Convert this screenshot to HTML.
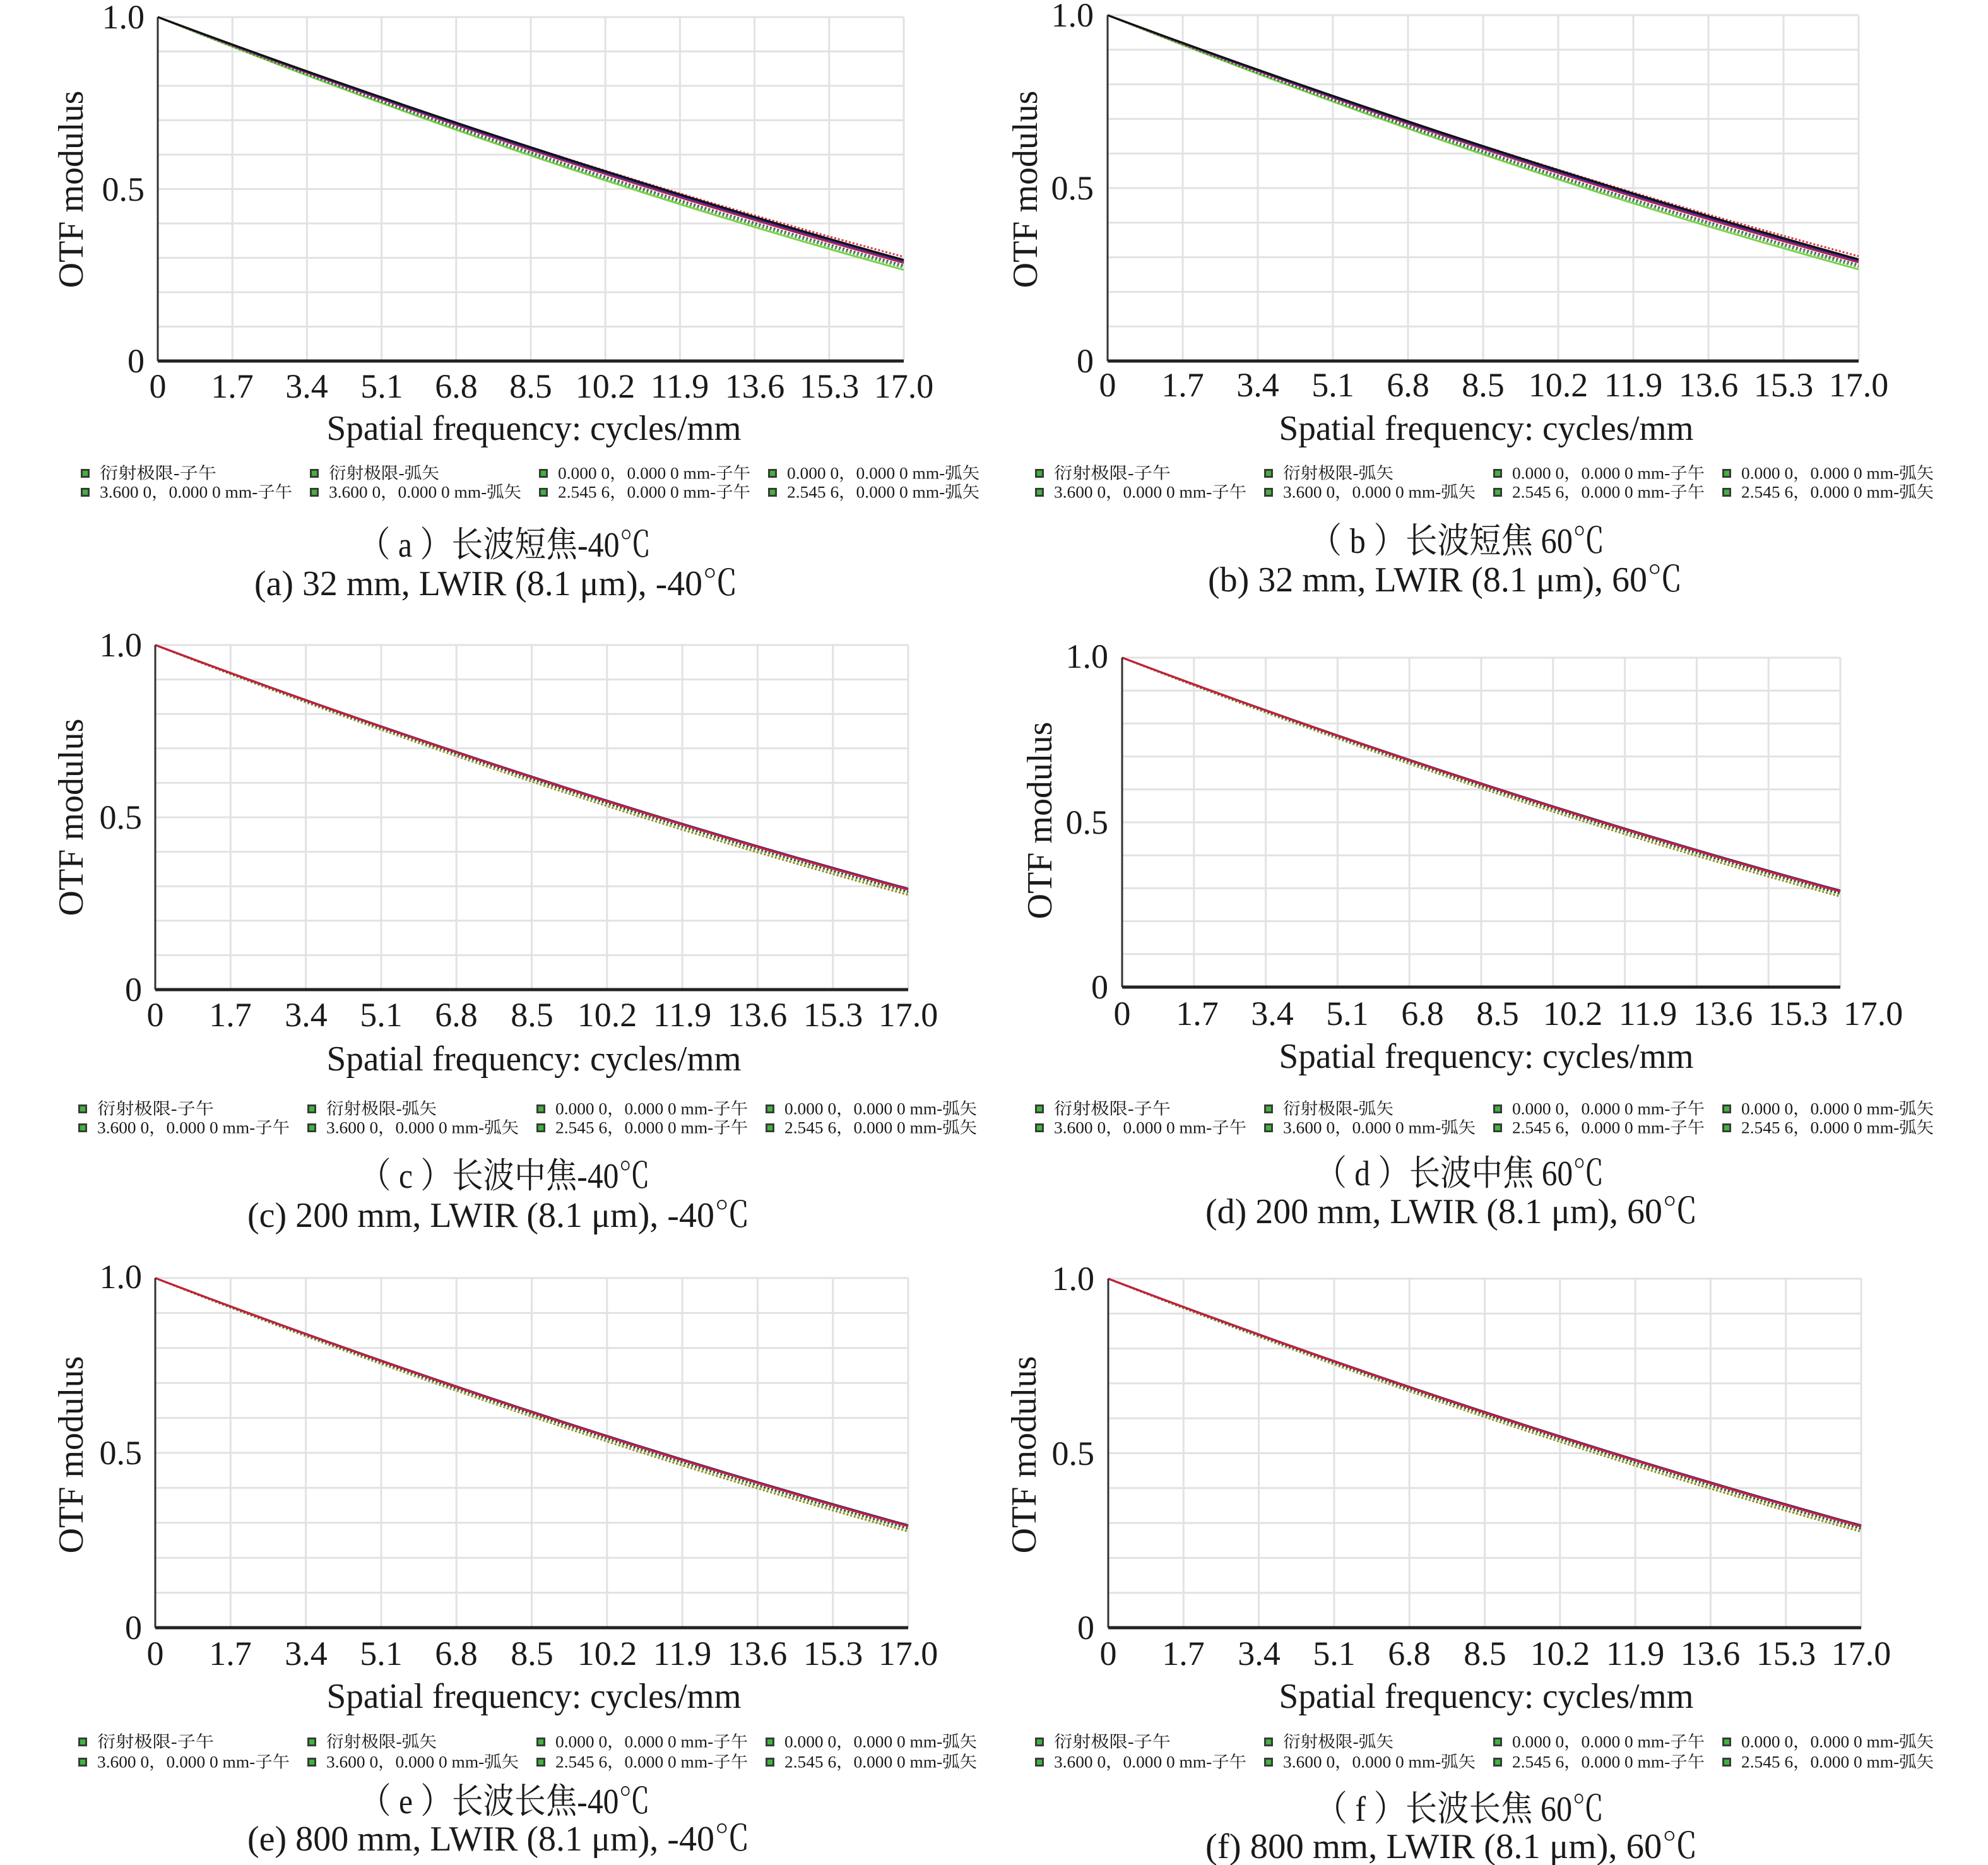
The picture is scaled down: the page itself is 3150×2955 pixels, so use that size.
<!DOCTYPE html>
<html><head><meta charset="utf-8"><style>
html,body{margin:0;padding:0;background:#fff;}
svg{display:block;}
text{font-family:"Liberation Serif","Noto Serif CJK SC","Noto Sans CJK SC",serif;fill:#1a1a1a;}
.tk{font-size:54px;text-anchor:middle;dominant-baseline:central;}
.yl{font-size:54px;text-anchor:end;dominant-baseline:central;}
.at{font-size:56px;text-anchor:middle;dominant-baseline:central;}
.lg{font-size:26px;dominant-baseline:central;}
.cp{font-size:56px;text-anchor:middle;dominant-baseline:central;}
</style></head><body>
<svg width="3150" height="2955" viewBox="0 0 3150 2955" xmlns="http://www.w3.org/2000/svg">
<defs>
<g id="gr" fill="none" stroke="#e2e2e2" stroke-width="3">
<path vector-effect="non-scaling-stroke" d="M0.1,0V1M0.2,0V1M0.3,0V1M0.4,0V1M0.5,0V1M0.6,0V1M0.7,0V1M0.8,0V1M0.9,0V1M1,0V1M0,0H1M0,0.1H1M0,0.2H1M0,0.3H1M0,0.4H1M0,0.5H1M0,0.6H1M0,0.7H1M0,0.8H1M0,0.9H1"/>
</g>
<g id="cvA" fill="none" stroke-width="3">
<path vector-effect="non-scaling-stroke" stroke="#7cd04a" d="M0,0Q0.5,0.438 1,0.735"/>
<path vector-effect="non-scaling-stroke" stroke="#3aa03a" stroke-dasharray="3 3" d="M0,0Q0.5,0.432 1,0.728"/>
<path vector-effect="non-scaling-stroke" stroke="#556" stroke-dasharray="3 3" d="M0,0Q0.5,0.425 1,0.722"/>
<path vector-effect="non-scaling-stroke" stroke="#cc2030" d="M0,0Q0.5,0.415 1,0.715"/>
<path vector-effect="non-scaling-stroke" stroke="#e03040" stroke-dasharray="3 3" d="M0,0Q0.5,0.408 1,0.697"/>
<path vector-effect="non-scaling-stroke" stroke="#7a2a8a" d="M0,0Q0.5,0.412 1,0.712"/>
<path vector-effect="non-scaling-stroke" stroke="#22227a" d="M0,0Q0.5,0.408 1,0.708"/>
<path vector-effect="non-scaling-stroke" stroke="#111" d="M0,0Q0.5,0.404 1,0.706"/>
</g>
<g id="cvB" fill="none" stroke-width="3">
<path vector-effect="non-scaling-stroke" stroke="#a08020" stroke-dasharray="3 3" d="M0,0Q0.5,0.43 1,0.725"/>
<path vector-effect="non-scaling-stroke" stroke="#7cd04a" stroke-dasharray="3 3" d="M0,0Q0.5,0.425 1,0.72"/>
<path vector-effect="non-scaling-stroke" stroke="#444" stroke-dasharray="3 3" d="M0,0Q0.5,0.42 1,0.716"/>
<path vector-effect="non-scaling-stroke" stroke="#7a2a8a" d="M0,0Q0.5,0.413 1,0.71"/>
<path vector-effect="non-scaling-stroke" stroke="#22227a" d="M0,0Q0.5,0.41 1,0.707"/>
<path vector-effect="non-scaling-stroke" stroke="#cc2030" d="M0,0Q0.5,0.412 1,0.709"/>
</g>
<g id="ic"><rect x="0" y="-7" width="14" height="14" fill="#3a3a3a"/><rect x="3" y="-4" width="8" height="8" fill="#3db53d"/></g>
</defs>

<!-- Panel a -->
<svg x="250" y="27" width="1182" height="545" viewBox="0 0 1 1" preserveAspectRatio="none" overflow="visible"><use href="#gr"/><use href="#cvA"/></svg>
<line x1="250" y1="27" x2="250" y2="572" stroke="#333" stroke-width="3"/>
<line x1="250" y1="572" x2="1432" y2="572" stroke="#222" stroke-width="5"/>
<text class="yl" x="229" y="27">1.0</text><text class="yl" x="229" y="300">0.5</text><text class="yl" x="229" y="572">0</text>
<text class="at" transform="translate(113,300) rotate(-90)">OTF modulus</text>
<g class="tk"><text class="tk" x="250" y="612">0</text><text class="tk" x="368" y="612">1.7</text><text class="tk" x="486" y="612">3.4</text><text class="tk" x="605" y="612">5.1</text><text class="tk" x="723" y="612">6.8</text><text class="tk" x="841" y="612">8.5</text><text class="tk" x="959" y="612">10.2</text><text class="tk" x="1077" y="612">11.9</text><text class="tk" x="1196" y="612">13.6</text><text class="tk" x="1314" y="612">15.3</text><text class="tk" x="1432" y="612">17.0</text></g>
<text class="at" x="846" y="679" textLength="657" lengthAdjust="spacingAndGlyphs">Spatial frequency: cycles/mm</text>
<g>
<use href="#ic" x="128" y="750"/><text class="lg" x="158" y="750" textLength="185" lengthAdjust="spacingAndGlyphs">衍射极限-子午</text>
<use href="#ic" x="491" y="750"/><text class="lg" x="521" y="750" textLength="175" lengthAdjust="spacingAndGlyphs">衍射极限-弧矢</text>
<use href="#ic" x="854" y="750"/><text class="lg" x="884" y="750" textLength="305" lengthAdjust="spacingAndGlyphs">0.000 0，0.000 0 mm-子午</text>
<use href="#ic" x="1217" y="750"/><text class="lg" x="1247" y="750" textLength="305" lengthAdjust="spacingAndGlyphs">0.000 0，0.000 0 mm-弧矢</text>
<use href="#ic" x="128" y="780"/><text class="lg" x="158" y="780" textLength="305" lengthAdjust="spacingAndGlyphs">3.600 0，0.000 0 mm-子午</text>
<use href="#ic" x="491" y="780"/><text class="lg" x="521" y="780" textLength="305" lengthAdjust="spacingAndGlyphs">3.600 0，0.000 0 mm-弧矢</text>
<use href="#ic" x="854" y="780"/><text class="lg" x="884" y="780" textLength="305" lengthAdjust="spacingAndGlyphs">2.545 6，0.000 0 mm-子午</text>
<use href="#ic" x="1217" y="780"/><text class="lg" x="1247" y="780" textLength="305" lengthAdjust="spacingAndGlyphs">2.545 6，0.000 0 mm-弧矢</text>
</g>
<text class="cp" x="800" y="864" textLength="463" lengthAdjust="spacingAndGlyphs">（ a ）长波短焦-40℃</text>
<text class="cp" x="786" y="925" textLength="766" lengthAdjust="spacingAndGlyphs">(a) 32 mm, LWIR (8.1 μm), -40℃</text>

<!-- Panel b -->
<svg x="1755" y="24" width="1190" height="548" viewBox="0 0 1 1" preserveAspectRatio="none" overflow="visible"><use href="#gr"/><use href="#cvA"/></svg>
<line x1="1755" y1="24" x2="1755" y2="572" stroke="#333" stroke-width="3"/>
<line x1="1755" y1="572" x2="2945" y2="572" stroke="#222" stroke-width="5"/>
<text class="yl" x="1733" y="24">1.0</text><text class="yl" x="1733" y="298">0.5</text><text class="yl" x="1733" y="572">0</text>
<text class="at" transform="translate(1625,300) rotate(-90)">OTF modulus</text>
<g><text class="tk" x="1755" y="610">0</text><text class="tk" x="1874" y="610">1.7</text><text class="tk" x="1993" y="610">3.4</text><text class="tk" x="2112" y="610">5.1</text><text class="tk" x="2231" y="610">6.8</text><text class="tk" x="2350" y="610">8.5</text><text class="tk" x="2469" y="610">10.2</text><text class="tk" x="2588" y="610">11.9</text><text class="tk" x="2707" y="610">13.6</text><text class="tk" x="2826" y="610">15.3</text><text class="tk" x="2945" y="610">17.0</text></g>
<text class="at" x="2355" y="679" textLength="657" lengthAdjust="spacingAndGlyphs">Spatial frequency: cycles/mm</text>
<g>
<use href="#ic" x="1640" y="750"/><text class="lg" x="1670" y="750" textLength="185" lengthAdjust="spacingAndGlyphs">衍射极限-子午</text>
<use href="#ic" x="2003" y="750"/><text class="lg" x="2033" y="750" textLength="175" lengthAdjust="spacingAndGlyphs">衍射极限-弧矢</text>
<use href="#ic" x="2366" y="750"/><text class="lg" x="2396" y="750" textLength="305" lengthAdjust="spacingAndGlyphs">0.000 0，0.000 0 mm-子午</text>
<use href="#ic" x="2729" y="750"/><text class="lg" x="2759" y="750" textLength="305" lengthAdjust="spacingAndGlyphs">0.000 0，0.000 0 mm-弧矢</text>
<use href="#ic" x="1640" y="780"/><text class="lg" x="1670" y="780" textLength="305" lengthAdjust="spacingAndGlyphs">3.600 0，0.000 0 mm-子午</text>
<use href="#ic" x="2003" y="780"/><text class="lg" x="2033" y="780" textLength="305" lengthAdjust="spacingAndGlyphs">3.600 0，0.000 0 mm-弧矢</text>
<use href="#ic" x="2366" y="780"/><text class="lg" x="2396" y="780" textLength="305" lengthAdjust="spacingAndGlyphs">2.545 6，0.000 0 mm-子午</text>
<use href="#ic" x="2729" y="780"/><text class="lg" x="2759" y="780" textLength="305" lengthAdjust="spacingAndGlyphs">2.545 6，0.000 0 mm-弧矢</text>
</g>
<text class="cp" x="2309" y="858" textLength="467" lengthAdjust="spacingAndGlyphs">（ b ）长波短焦 60℃</text>
<text class="cp" x="2290" y="919" textLength="752" lengthAdjust="spacingAndGlyphs">(b) 32 mm, LWIR (8.1 μm), 60℃</text>

<!-- Panel c -->
<svg x="246" y="1022" width="1193" height="546" viewBox="0 0 1 1" preserveAspectRatio="none" overflow="visible"><use href="#gr"/><use href="#cvB"/></svg>
<line x1="246" y1="1022" x2="246" y2="1568" stroke="#333" stroke-width="3"/>
<line x1="246" y1="1568" x2="1439" y2="1568" stroke="#222" stroke-width="5"/>
<text class="yl" x="225" y="1022">1.0</text><text class="yl" x="225" y="1295">0.5</text><text class="yl" x="225" y="1568">0</text>
<text class="at" transform="translate(113,1295) rotate(-90)">OTF modulus</text>
<g><text class="tk" x="246" y="1608">0</text><text class="tk" x="365" y="1608">1.7</text><text class="tk" x="485" y="1608">3.4</text><text class="tk" x="604" y="1608">5.1</text><text class="tk" x="723" y="1608">6.8</text><text class="tk" x="843" y="1608">8.5</text><text class="tk" x="962" y="1608">10.2</text><text class="tk" x="1081" y="1608">11.9</text><text class="tk" x="1200" y="1608">13.6</text><text class="tk" x="1320" y="1608">15.3</text><text class="tk" x="1439" y="1608">17.0</text></g>
<text class="at" x="846" y="1678" textLength="657" lengthAdjust="spacingAndGlyphs">Spatial frequency: cycles/mm</text>
<g>
<use href="#ic" x="124" y="1757"/><text class="lg" x="154" y="1757" textLength="185" lengthAdjust="spacingAndGlyphs">衍射极限-子午</text>
<use href="#ic" x="487" y="1757"/><text class="lg" x="517" y="1757" textLength="175" lengthAdjust="spacingAndGlyphs">衍射极限-弧矢</text>
<use href="#ic" x="850" y="1757"/><text class="lg" x="880" y="1757" textLength="305" lengthAdjust="spacingAndGlyphs">0.000 0，0.000 0 mm-子午</text>
<use href="#ic" x="1213" y="1757"/><text class="lg" x="1243" y="1757" textLength="305" lengthAdjust="spacingAndGlyphs">0.000 0，0.000 0 mm-弧矢</text>
<use href="#ic" x="124" y="1787"/><text class="lg" x="154" y="1787" textLength="305" lengthAdjust="spacingAndGlyphs">3.600 0，0.000 0 mm-子午</text>
<use href="#ic" x="487" y="1787"/><text class="lg" x="517" y="1787" textLength="305" lengthAdjust="spacingAndGlyphs">3.600 0，0.000 0 mm-弧矢</text>
<use href="#ic" x="850" y="1787"/><text class="lg" x="880" y="1787" textLength="305" lengthAdjust="spacingAndGlyphs">2.545 6，0.000 0 mm-子午</text>
<use href="#ic" x="1213" y="1787"/><text class="lg" x="1243" y="1787" textLength="305" lengthAdjust="spacingAndGlyphs">2.545 6，0.000 0 mm-弧矢</text>
</g>
<text class="cp" x="800" y="1864" textLength="460" lengthAdjust="spacingAndGlyphs">（ c ）长波中焦-40℃</text>
<text class="cp" x="790" y="1926" textLength="796" lengthAdjust="spacingAndGlyphs">(c) 200 mm, LWIR (8.1 μm), -40℃</text>

<!-- Panel d -->
<svg x="1778" y="1042" width="1138" height="522" viewBox="0 0 1 1" preserveAspectRatio="none" overflow="visible"><use href="#gr"/><use href="#cvB"/></svg>
<line x1="1778" y1="1042" x2="1778" y2="1564" stroke="#333" stroke-width="3"/>
<line x1="1778" y1="1564" x2="2916" y2="1564" stroke="#222" stroke-width="5"/>
<text class="yl" x="1756" y="1040">1.0</text><text class="yl" x="1756" y="1303">0.5</text><text class="yl" x="1756" y="1564">0</text>
<text class="at" transform="translate(1648,1300) rotate(-90)">OTF modulus</text>
<g><text class="tk" x="1778" y="1606">0</text><text class="tk" x="1897" y="1606">1.7</text><text class="tk" x="2016" y="1606">3.4</text><text class="tk" x="2135" y="1606">5.1</text><text class="tk" x="2254" y="1606">6.8</text><text class="tk" x="2373" y="1606">8.5</text><text class="tk" x="2492" y="1606">10.2</text><text class="tk" x="2611" y="1606">11.9</text><text class="tk" x="2730" y="1606">13.6</text><text class="tk" x="2849" y="1606">15.3</text><text class="tk" x="2968" y="1606">17.0</text></g>
<text class="at" x="2355" y="1674" textLength="657" lengthAdjust="spacingAndGlyphs">Spatial frequency: cycles/mm</text>
<g>
<use href="#ic" x="1640" y="1757"/><text class="lg" x="1670" y="1757" textLength="185" lengthAdjust="spacingAndGlyphs">衍射极限-子午</text>
<use href="#ic" x="2003" y="1757"/><text class="lg" x="2033" y="1757" textLength="175" lengthAdjust="spacingAndGlyphs">衍射极限-弧矢</text>
<use href="#ic" x="2366" y="1757"/><text class="lg" x="2396" y="1757" textLength="305" lengthAdjust="spacingAndGlyphs">0.000 0，0.000 0 mm-子午</text>
<use href="#ic" x="2729" y="1757"/><text class="lg" x="2759" y="1757" textLength="305" lengthAdjust="spacingAndGlyphs">0.000 0，0.000 0 mm-弧矢</text>
<use href="#ic" x="1640" y="1787"/><text class="lg" x="1670" y="1787" textLength="305" lengthAdjust="spacingAndGlyphs">3.600 0，0.000 0 mm-子午</text>
<use href="#ic" x="2003" y="1787"/><text class="lg" x="2033" y="1787" textLength="305" lengthAdjust="spacingAndGlyphs">3.600 0，0.000 0 mm-弧矢</text>
<use href="#ic" x="2366" y="1787"/><text class="lg" x="2396" y="1787" textLength="305" lengthAdjust="spacingAndGlyphs">2.545 6，0.000 0 mm-子午</text>
<use href="#ic" x="2729" y="1787"/><text class="lg" x="2759" y="1787" textLength="305" lengthAdjust="spacingAndGlyphs">2.545 6，0.000 0 mm-弧矢</text>
</g>
<text class="cp" x="2313" y="1860" textLength="457" lengthAdjust="spacingAndGlyphs">（ d ）长波中焦 60℃</text>
<text class="cp" x="2300" y="1920" textLength="780" lengthAdjust="spacingAndGlyphs">(d) 200 mm, LWIR (8.1 μm), 60℃</text>

<!-- Panel e -->
<svg x="246" y="2025" width="1193" height="554" viewBox="0 0 1 1" preserveAspectRatio="none" overflow="visible"><use href="#gr"/><use href="#cvB"/></svg>
<line x1="246" y1="2025" x2="246" y2="2579" stroke="#333" stroke-width="3"/>
<line x1="246" y1="2579" x2="1439" y2="2579" stroke="#222" stroke-width="5"/>
<text class="yl" x="225" y="2023">1.0</text><text class="yl" x="225" y="2302">0.5</text><text class="yl" x="225" y="2579">0</text>
<text class="at" transform="translate(113,2305) rotate(-90)">OTF modulus</text>
<g><text class="tk" x="246" y="2620">0</text><text class="tk" x="365" y="2620">1.7</text><text class="tk" x="485" y="2620">3.4</text><text class="tk" x="604" y="2620">5.1</text><text class="tk" x="723" y="2620">6.8</text><text class="tk" x="843" y="2620">8.5</text><text class="tk" x="962" y="2620">10.2</text><text class="tk" x="1081" y="2620">11.9</text><text class="tk" x="1200" y="2620">13.6</text><text class="tk" x="1320" y="2620">15.3</text><text class="tk" x="1439" y="2620">17.0</text></g>
<text class="at" x="846" y="2688" textLength="657" lengthAdjust="spacingAndGlyphs">Spatial frequency: cycles/mm</text>
<g>
<use href="#ic" x="124" y="2760"/><text class="lg" x="154" y="2760" textLength="185" lengthAdjust="spacingAndGlyphs">衍射极限-子午</text>
<use href="#ic" x="487" y="2760"/><text class="lg" x="517" y="2760" textLength="175" lengthAdjust="spacingAndGlyphs">衍射极限-弧矢</text>
<use href="#ic" x="850" y="2760"/><text class="lg" x="880" y="2760" textLength="305" lengthAdjust="spacingAndGlyphs">0.000 0，0.000 0 mm-子午</text>
<use href="#ic" x="1213" y="2760"/><text class="lg" x="1243" y="2760" textLength="305" lengthAdjust="spacingAndGlyphs">0.000 0，0.000 0 mm-弧矢</text>
<use href="#ic" x="124" y="2792"/><text class="lg" x="154" y="2792" textLength="305" lengthAdjust="spacingAndGlyphs">3.600 0，0.000 0 mm-子午</text>
<use href="#ic" x="487" y="2792"/><text class="lg" x="517" y="2792" textLength="305" lengthAdjust="spacingAndGlyphs">3.600 0，0.000 0 mm-弧矢</text>
<use href="#ic" x="850" y="2792"/><text class="lg" x="880" y="2792" textLength="305" lengthAdjust="spacingAndGlyphs">2.545 6，0.000 0 mm-子午</text>
<use href="#ic" x="1213" y="2792"/><text class="lg" x="1243" y="2792" textLength="305" lengthAdjust="spacingAndGlyphs">2.545 6，0.000 0 mm-弧矢</text>
</g>
<text class="cp" x="800" y="2855" textLength="460" lengthAdjust="spacingAndGlyphs">（ e ）长波长焦-40℃</text>
<text class="cp" x="790" y="2914" textLength="796" lengthAdjust="spacingAndGlyphs">(e) 800 mm, LWIR (8.1 μm), -40℃</text>

<!-- Panel f -->
<svg x="1756" y="2026" width="1193" height="553" viewBox="0 0 1 1" preserveAspectRatio="none" overflow="visible"><use href="#gr"/><use href="#cvB"/></svg>
<line x1="1756" y1="2026" x2="1756" y2="2579" stroke="#333" stroke-width="3"/>
<line x1="1756" y1="2579" x2="2949" y2="2579" stroke="#222" stroke-width="5"/>
<text class="yl" x="1734" y="2026">1.0</text><text class="yl" x="1734" y="2303">0.5</text><text class="yl" x="1734" y="2579">0</text>
<text class="at" transform="translate(1623,2305) rotate(-90)">OTF modulus</text>
<g><text class="tk" x="1756" y="2620">0</text><text class="tk" x="1875" y="2620">1.7</text><text class="tk" x="1995" y="2620">3.4</text><text class="tk" x="2114" y="2620">5.1</text><text class="tk" x="2233" y="2620">6.8</text><text class="tk" x="2353" y="2620">8.5</text><text class="tk" x="2472" y="2620">10.2</text><text class="tk" x="2591" y="2620">11.9</text><text class="tk" x="2710" y="2620">13.6</text><text class="tk" x="2830" y="2620">15.3</text><text class="tk" x="2949" y="2620">17.0</text></g>
<text class="at" x="2355" y="2688" textLength="657" lengthAdjust="spacingAndGlyphs">Spatial frequency: cycles/mm</text>
<g>
<use href="#ic" x="1640" y="2760"/><text class="lg" x="1670" y="2760" textLength="185" lengthAdjust="spacingAndGlyphs">衍射极限-子午</text>
<use href="#ic" x="2003" y="2760"/><text class="lg" x="2033" y="2760" textLength="175" lengthAdjust="spacingAndGlyphs">衍射极限-弧矢</text>
<use href="#ic" x="2366" y="2760"/><text class="lg" x="2396" y="2760" textLength="305" lengthAdjust="spacingAndGlyphs">0.000 0，0.000 0 mm-子午</text>
<use href="#ic" x="2729" y="2760"/><text class="lg" x="2759" y="2760" textLength="305" lengthAdjust="spacingAndGlyphs">0.000 0，0.000 0 mm-弧矢</text>
<use href="#ic" x="1640" y="2792"/><text class="lg" x="1670" y="2792" textLength="305" lengthAdjust="spacingAndGlyphs">3.600 0，0.000 0 mm-子午</text>
<use href="#ic" x="2003" y="2792"/><text class="lg" x="2033" y="2792" textLength="305" lengthAdjust="spacingAndGlyphs">3.600 0，0.000 0 mm-弧矢</text>
<use href="#ic" x="2366" y="2792"/><text class="lg" x="2396" y="2792" textLength="305" lengthAdjust="spacingAndGlyphs">2.545 6，0.000 0 mm-子午</text>
<use href="#ic" x="2729" y="2792"/><text class="lg" x="2759" y="2792" textLength="305" lengthAdjust="spacingAndGlyphs">2.545 6，0.000 0 mm-弧矢</text>
</g>
<text class="cp" x="2313" y="2867" textLength="457" lengthAdjust="spacingAndGlyphs">（ f ）长波长焦 60℃</text>
<text class="cp" x="2300" y="2926" textLength="780" lengthAdjust="spacingAndGlyphs">(f) 800 mm, LWIR (8.1 μm), 60℃</text>
</svg>
</body></html>
